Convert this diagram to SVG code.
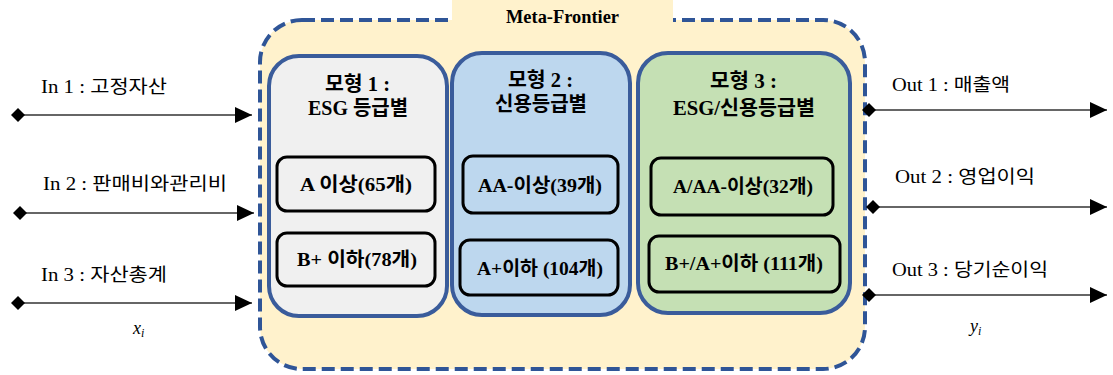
<svg xmlns="http://www.w3.org/2000/svg" width="1113" height="375" viewBox="0 0 1113 375">
<style>
.t{font-family:"Liberation Serif","Noto Sans CJK KR",serif;fill:#000}
.b{font-weight:bold}
.title{font-size:20px;font-weight:bold}
.inner{font-size:19px;font-weight:bold}
.lbl{font-size:18px}
.model{stroke:#3A5C9B;stroke-width:4}
.sub{stroke:#000;stroke-width:3}
.conn{stroke:#333;stroke-width:1.5;fill:none}
</style>
<defs>
<marker id="arr" markerWidth="18" markerHeight="18" refX="17" refY="8" orient="auto" markerUnits="userSpaceOnUse">
<path d="M0,0 L17,8 L0,16 Z" fill="#000"/>
</marker>
<marker id="dia" markerWidth="14" markerHeight="14" refX="7" refY="7" orient="auto" markerUnits="userSpaceOnUse">
<path d="M0,7 L7,0 L14,7 L7,14 Z" fill="#000"/>
</marker>
</defs>
<rect width="1113" height="375" fill="#fff"/>
<g id="meta-frontier">
<rect x="260" y="20" width="605" height="349" rx="42" fill="#FFF2CC" stroke="#2F5597" stroke-width="4" stroke-dasharray="13 6"/>
<rect x="452" y="0" width="221" height="30" fill="#FFF2CC"/>
<text class="t b" x="506" y="23" font-size="18" textLength="113" lengthAdjust="spacingAndGlyphs">Meta-Frontier</text>
</g>
<g id="model1">
<rect class="model" x="269" y="56" width="178" height="260" rx="30" fill="#F0F0F0"/>
<text class="t title" x="325" y="91" textLength="65" lengthAdjust="spacingAndGlyphs">모형 1 :</text>
<text class="t title" x="308" y="115" textLength="100" lengthAdjust="spacingAndGlyphs">ESG 등급별</text>
<rect class="sub" x="277" y="157" width="158" height="54" rx="10" fill="#F0F0F0"/>
<text class="t inner" x="300" y="191" textLength="112" lengthAdjust="spacingAndGlyphs">A 이상(65개)</text>
<rect class="sub" x="277" y="233" width="158" height="53" rx="10" fill="#F0F0F0"/>
<text class="t inner" x="297" y="266" textLength="120" lengthAdjust="spacingAndGlyphs">B+ 이하(78개)</text>
</g>
<g id="model2">
<rect class="model" x="452" y="53" width="178" height="262" rx="30" fill="#BDD7EE"/>
<text class="t title" x="508" y="87" textLength="65" lengthAdjust="spacingAndGlyphs">모형 2 :</text>
<text class="t title" x="495" y="111" textLength="92" lengthAdjust="spacingAndGlyphs">신용등급별</text>
<rect class="sub" x="463" y="156" width="155" height="57" rx="10" fill="#BDD7EE"/>
<text class="t inner" x="478" y="192" textLength="124" lengthAdjust="spacingAndGlyphs">AA-이상(39개)</text>
<rect class="sub" x="460" y="240" width="158" height="55" rx="10" fill="#BDD7EE"/>
<text class="t inner" x="477" y="275" textLength="126" lengthAdjust="spacingAndGlyphs">A+이하 (104개)</text>
</g>
<g id="model3">
<rect class="model" x="638" y="53" width="212" height="260" rx="30" fill="#C5E0B4"/>
<text class="t title" x="710" y="88" textLength="67" lengthAdjust="spacingAndGlyphs">모형 3 :</text>
<text class="t title" x="673" y="115" textLength="142" lengthAdjust="spacingAndGlyphs">ESG/신용등급별</text>
<rect class="sub" x="651" y="158" width="182" height="57" rx="10" fill="#C5E0B4"/>
<text class="t inner" x="673" y="193" textLength="140" lengthAdjust="spacingAndGlyphs">A/AA-이상(32개)</text>
<rect class="sub" x="649" y="236" width="191" height="56" rx="10" fill="#C5E0B4"/>
<text class="t inner" x="665" y="270" textLength="158" lengthAdjust="spacingAndGlyphs">B+/A+이하 (111개)</text>
</g>
<g id="connectors">
<line class="conn" x1="18" y1="115" x2="252" y2="115" marker-start="url(#dia)" marker-end="url(#arr)"/>
<line class="conn" x1="20" y1="213" x2="254" y2="213" marker-start="url(#dia)" marker-end="url(#arr)"/>
<line class="conn" x1="18" y1="303" x2="252" y2="303" marker-start="url(#dia)" marker-end="url(#arr)"/>
<line class="conn" x1="869" y1="110" x2="1107" y2="110" marker-start="url(#dia)" marker-end="url(#arr)"/>
<line class="conn" x1="873" y1="207" x2="1107" y2="207" marker-start="url(#dia)" marker-end="url(#arr)"/>
<line class="conn" x1="869" y1="295" x2="1107" y2="295" marker-start="url(#dia)" marker-end="url(#arr)"/>
</g>
<g id="labels">
<text class="t lbl" x="41" y="93" textLength="126" lengthAdjust="spacingAndGlyphs">In 1 : 고정자산</text>
<text class="t lbl" x="43" y="190" textLength="184" lengthAdjust="spacingAndGlyphs">In 2 : 판매비와관리비</text>
<text class="t lbl" x="41" y="281" textLength="126" lengthAdjust="spacingAndGlyphs">In 3 : 자산총계</text>
<text class="t lbl" x="133" y="334" font-style="italic" font-size="18">x<tspan font-size="12" dy="3">i</tspan></text>
<text class="t lbl" x="892" y="91" textLength="118" lengthAdjust="spacingAndGlyphs">Out 1 : 매출액</text>
<text class="t lbl" x="895" y="183" textLength="140" lengthAdjust="spacingAndGlyphs">Out 2 : 영업이익</text>
<text class="t lbl" x="892" y="276" textLength="156" lengthAdjust="spacingAndGlyphs">Out 3 : 당기순이익</text>
<text class="t lbl" x="970" y="332" font-style="italic" font-size="18">y<tspan font-size="12" dy="3">i</tspan></text>
</g>
</svg>
